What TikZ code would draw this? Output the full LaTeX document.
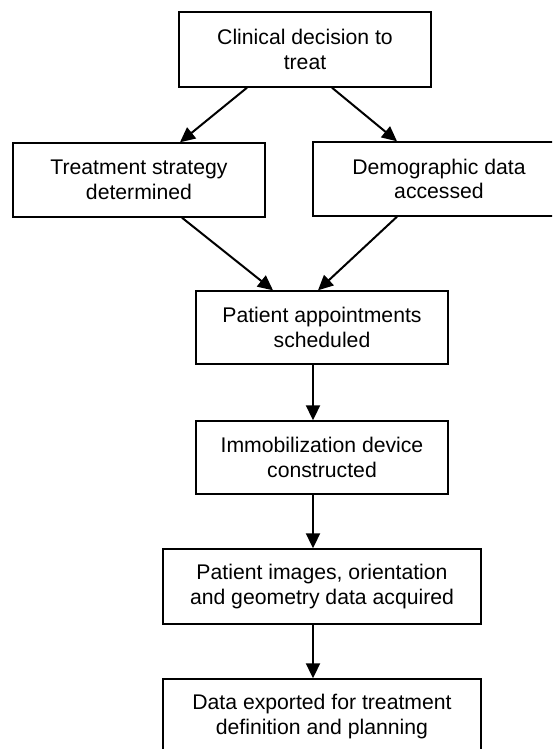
\documentclass[tikz,border=0pt]{standalone}
\usepackage{fontspec}
\setmainfont{Liberation Sans}
\usetikzlibrary{arrows.meta}
\begin{document}
\begin{tikzpicture}[x=1pt,y=-1pt,
  box/.style={draw=black, line width=1.4pt, inner sep=0pt, align=center,
    minimum width=252pt, minimum height=74pt,
    font=\fontsize{21.2}{24.4}\selectfont},
  widebox/.style={box, minimum width=318pt},
  arr/.style={draw=black, line width=2pt, -{Triangle[length=15pt,width=14pt]}}]
\useasboundingbox (0,0) rectangle (552,749);
\fill[white] (0,0) rectangle (552,749);
\clip (0,0) rectangle (552,749);
\node[box, minimum height=75pt] (b1) at (305,49.5) {Clinical decision to\\treat};
\node[box] (b2) at (139,180) {Treatment strategy\\determined};
\node[box] (b3) at (439,179) {Demographic data\\accessed};
\node[box, minimum height=73pt] (b4) at (322,327.5) {Patient appointments\\scheduled};
\node[box, minimum height=73pt] (b5) at (322,457.5) {Immobilization device\\constructed};
\node[widebox, minimum height=75pt] (b6) at (322,586.5) {Patient images, orientation\\and geometry data acquired};
\node[widebox, minimum height=75pt] (b7) at (322,716.5) {Data exported for treatment\\definition and planning};
\draw[arr] ([xshift=-58pt]b1.south) -- ([xshift=41pt]b2.north);
\draw[arr] ([xshift=27pt]b1.south) -- ([xshift=-42pt]b3.north);
\draw[arr] ([xshift=43pt]b2.south) -- ([xshift=-49pt]b4.north);
\draw[arr] ([xshift=-42pt]b3.south) -- ([xshift=-4pt]b4.north);
\draw[arr] ([xshift=-9pt]b4.south) -- ([xshift=-9pt]b5.north);
\draw[arr] ([xshift=-9pt]b5.south) -- ([xshift=-9pt]b6.north);
\draw[arr] ([xshift=-9pt]b6.south) -- ([xshift=-9pt]b7.north);
\end{tikzpicture}
\end{document}
